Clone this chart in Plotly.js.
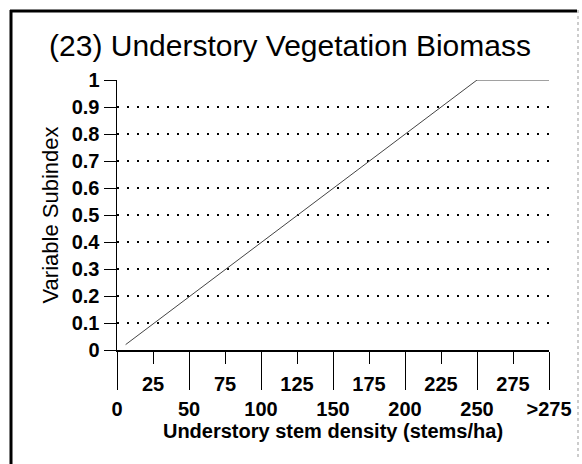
<!DOCTYPE html>
<html><head><meta charset="utf-8">
<script src="https://cdn.plot.ly/plotly-3.0.1.min.js"></script>
<style>html,body{margin:0;padding:0;background:#fff}</style>
</head><body>
<div id="chart" style="width:582px;height:464px"></div>
<script>
// Data
const densityX = [6, 250, 300];
const subindexY = [0.02, 1, 1];
const majorTickVals = [0, 50, 100, 150, 200, 250, 300];
const majorTickText = ['0', '50', '100', '150', '200', '250', '>275'];
const minorTickVals = [25, 75, 125, 175, 225, 275];
const minorTickText = ['25', '75', '125', '175', '225', '275'];
const yTickVals = [0, 0.1, 0.2, 0.3, 0.4, 0.5, 0.6, 0.7, 0.8, 0.9, 1];
const yTickText = ['0', '0.1', '0.2', '0.3', '0.4', '0.5', '0.6', '0.7', '0.8', '0.9', '1'];

const W = 582, H = 464, L = 117, R = 33, T = 80, B = 114;
const pw = W - L - R, ph = H - T - B;
const px = v => (v - L) / pw;          // pixel x -> paper
const py = v => (H - B - v) / ph;      // pixel y -> paper

const FONT = 'Liberation Sans, Arial, sans-serif';

const traces = [
  {x: densityX, y: subindexY, type: 'scatter', mode: 'lines',
   line: {color: '#444', width: 1}, hoverinfo: 'skip', showlegend: false},
  {x: [minorTickVals[0]], y: [0], xaxis: 'x2', yaxis: 'y', type: 'scatter', mode: 'markers',
   marker: {opacity: 0}, hoverinfo: 'skip', showlegend: false}
];

const layout = {
  width: W, height: H,
  margin: {l: L, r: R, t: T, b: B, pad: 0},
  paper_bgcolor: '#fff', plot_bgcolor: '#fff',
  showlegend: false,
  title: {text: '(23) Understory Vegetation Biomass', font: {family: FONT, size: 30, color: '#000'},
          x: px(290), xref: 'paper', xanchor: 'center', y: 1 - 45 / H, yanchor: 'middle'},
  xaxis: {range: [0, 300], tickmode: 'array', tickvals: majorTickVals, ticktext: majorTickText,
          ticks: 'outside', ticklen: 38, tickwidth: 1, tickcolor: '#000', ticklabelstandoff: 2,
          showgrid: false, zeroline: false, showline: true, linecolor: '#000', linewidth: 1.5,
          tickfont: {family: FONT, size: 20, color: '#000', weight: 'bold'},
          title: {text: 'Understory stem density (stems/ha)', standoff: 2,
                  font: {family: FONT, size: 20, color: '#000', weight: 'bold'}},
          automargin: false, fixedrange: true},
  xaxis2: {range: [0, 300], overlaying: 'x', anchor: 'y', side: 'bottom',
          tickmode: 'array', tickvals: minorTickVals, ticktext: minorTickText,
          ticks: 'outside', ticklen: 13, tickwidth: 1, tickcolor: '#000', ticklabelstandoff: 3,
          showgrid: false, zeroline: false, showline: false,
          tickfont: {family: FONT, size: 20, color: '#000', weight: 'bold'},
          automargin: false, fixedrange: true},
  yaxis: {range: [0, 1], tickmode: 'array', tickvals: yTickVals, ticktext: yTickText,
          ticks: 'outside', ticklen: 12, tickwidth: 1, tickcolor: '#000',
          showgrid: true, gridcolor: '#000', griddash: '2px,8px', gridwidth: 1.5,
          zeroline: false, showline: true, linecolor: '#000', linewidth: 1.5,
          tickfont: {family: FONT, size: 20, color: '#000', weight: 'bold'},
          title: {text: 'Variable Subindex', standoff: 7,
                  font: {family: FONT, size: 22, color: '#000'}},
          automargin: false, fixedrange: true},
  shapes: [
    {type: 'line', xref: 'paper', yref: 'paper', x0: px(11), x1: px(11), y0: py(10), y1: py(464),
     line: {color: '#000', width: 3}},
    {type: 'line', xref: 'paper', yref: 'paper', x0: px(10), x1: px(577), y0: py(11), y1: py(11),
     line: {color: '#000', width: 3}},
    {type: 'line', xref: 'paper', yref: 'paper', x0: px(578), x1: px(578), y0: py(10), y1: py(458),
     line: {color: '#999', width: 1, dash: 'dot'}}
  ]
};

Plotly.newPlot('chart', traces, layout, {staticPlot: true, displayModeBar: false});
</script>
</body></html>
